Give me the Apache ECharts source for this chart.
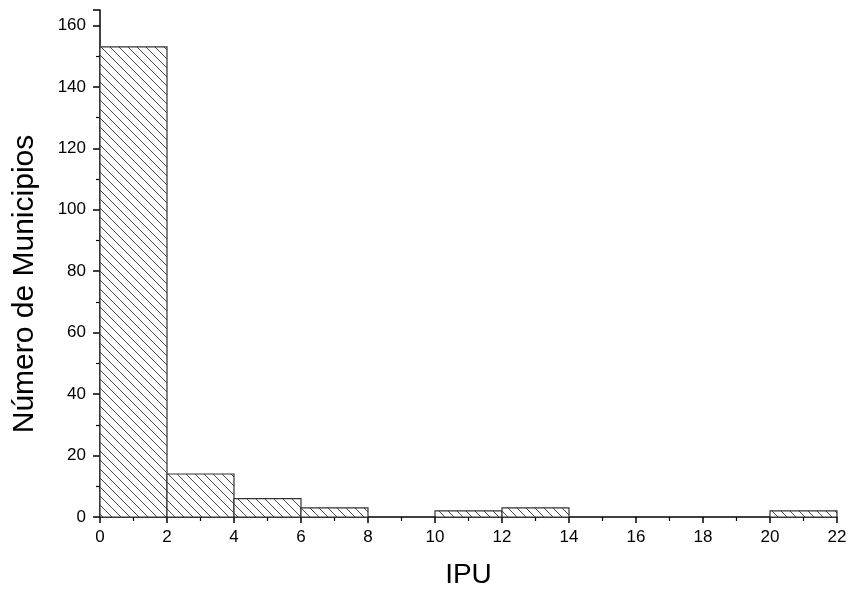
<!DOCTYPE html>
<html><head><meta charset="utf-8">
<script src="https://cdn.jsdelivr.net/npm/echarts@6/dist/echarts.min.js"></script>
<style>html,body{margin:0;padding:0;background:#fff}#c{width:853px;height:594px}</style>
</head><body><div id="c"></div>
<script>
var binStart = [0, 2, 4, 6, 10, 12, 20];
var binEnd   = [2, 4, 6, 8, 12, 14, 22];
var counts   = [153, 14, 6, 3, 2, 3, 2];
var xTitle = 'IPU';
var yTitle = 'Número de Municipios';

function hatch() {
  var s = 9, c = document.createElement('canvas');
  c.width = s; c.height = s;
  var g = c.getContext('2d');
  g.fillStyle = '#fff'; g.fillRect(0, 0, s, s);
  g.strokeStyle = '#333'; g.lineWidth = 0.9;
  g.beginPath();
  g.moveTo(-1, -1); g.lineTo(s + 1, s + 1);
  g.moveTo(-1, s - 1); g.lineTo(1, s + 1);
  g.moveTo(s - 1, -1); g.lineTo(s + 1, 1);
  g.stroke();
  return c;
}
var pat = hatch();
var data = binStart.map(function (b, i) { return [b, binEnd[i], counts[i]]; });
var font = 'Liberation Sans, Arial, sans-serif';
var chart = echarts.init(document.getElementById('c'));
chart.setOption({
  animation: false,
  grid: { left: 100, right: 16, top: 10, bottom: 77 },
  graphic: [{
    type: 'text', x: 25, y: 284, rotation: Math.PI / 2,
    style: { text: yTitle, fontSize: 30, fill: '#000', fontFamily: font,
      align: 'center', verticalAlign: 'middle' }
  }],
  xAxis: {
    type: 'value', min: 0, max: 22, interval: 2,
    name: xTitle, nameLocation: 'middle', nameGap: 44,
    nameTextStyle: { fontSize: 28, color: '#000', fontFamily: font },
    axisLine: { show: true, lineStyle: { color: '#000', width: 1.5 } },
    axisTick: { show: true, inside: false, length: 6, lineStyle: { color: '#000', width: 1.5 } },
    minorTick: { show: true, splitNumber: 2, length: 4, lineStyle: { color: '#000', width: 1.2 } },
    axisLabel: { fontSize: 17, color: '#000', fontFamily: font, margin: 12 },
    splitLine: { show: false }
  },
  yAxis: {
    type: 'value', min: 0, max: 165, interval: 20,
    axisLine: { show: true, lineStyle: { color: '#000', width: 1.5 } },
    axisTick: { show: true, inside: false, length: 7, lineStyle: { color: '#000', width: 1.5 } },
    minorTick: { show: true, splitNumber: 2, length: 4, lineStyle: { color: '#000', width: 1.2 } },
    axisLabel: { fontSize: 17, color: '#000', fontFamily: font, margin: 14,
      formatter: function (v) { return v % 20 === 0 ? v : ''; } },
    splitLine: { show: false }
  },
  series: [{
    type: 'custom',
    data: data,
    encode: { x: [0, 1], y: 2 },
    renderItem: function (params, api) {
      var p0 = api.coord([api.value(0), api.value(2)]);
      var p1 = api.coord([api.value(1), 0]);
      return {
        type: 'rect',
        shape: { x: p0[0], y: p0[1], width: p1[0] - p0[0], height: p1[1] - p0[1] },
        style: { fill: { image: pat, repeat: 'repeat' }, stroke: '#333', lineWidth: 1.2 }
      };
    }
  }]
});
</script></body></html>
